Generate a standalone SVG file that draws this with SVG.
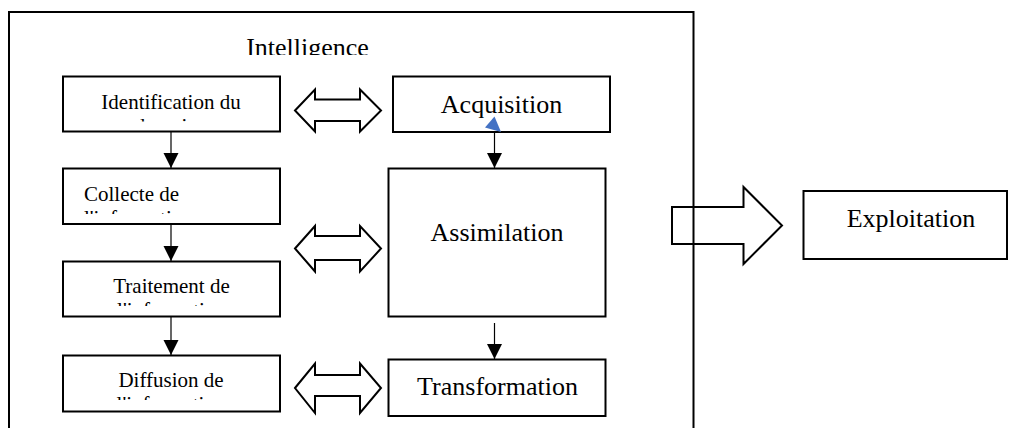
<svg xmlns="http://www.w3.org/2000/svg" width="1011" height="428" viewBox="0 0 1011 428">
<style>
.box{fill:#fff;stroke:#000;stroke-width:2}
.blk{fill:none;stroke:#000;stroke-width:2;stroke-linejoin:miter}
.t{font-family:'Liberation Serif','Times New Roman','DejaVu Serif',serif;fill:#000}
.s{font-size:21px}
.b{font-size:26px}
.c{text-anchor:middle}
.ln{stroke:#000;stroke-width:1.2;fill:none}
</style>
<defs>
<marker id="ah" markerUnits="userSpaceOnUse" markerWidth="16" markerHeight="16" viewBox="0 0 16 16" refX="15" refY="8" orient="auto">
<path d="M0,0.5 L15,8 L0,15.5 Z" fill="#000"/>
</marker>
<clipPath id="cI"><rect x="10" y="13" width="680" height="42"/></clipPath>
<clipPath id="c1"><rect x="65" y="78" width="213" height="43.5"/></clipPath>
<clipPath id="c2"><rect x="65" y="170" width="213" height="44"/></clipPath>
<clipPath id="c3"><rect x="65" y="263" width="213" height="43"/></clipPath>
<clipPath id="c4"><rect x="65" y="357" width="213" height="43"/></clipPath>
</defs>

<g id="frame">
<rect x="9" y="12" width="684.5" height="440" fill="#fff" stroke="#000" stroke-width="2"/>
<text class="t b c" x="307.5" y="56" clip-path="url(#cI)">Intelligence</text>
</g>

<g id="identification">
<rect class="box" x="63" y="76.5" width="217" height="55"/>
<text class="t s c" clip-path="url(#c1)"><tspan x="171" y="108.5">Identification du</tspan><tspan x="171" y="133">domaine</tspan></text>
</g>
<g id="collecte">
<rect class="box" x="63" y="168.5" width="217" height="55.5"/>
<text class="t s" clip-path="url(#c2)"><tspan x="84" y="201">Collecte de</tspan><tspan x="84" y="225">l'information</tspan></text>
</g>
<g id="traitement">
<rect class="box" x="63" y="261.5" width="217" height="55"/>
<text class="t s c" clip-path="url(#c3)"><tspan x="171.5" y="293">Traitement de</tspan><tspan x="171.5" y="317">l'information</tspan></text>
</g>
<g id="diffusion">
<rect class="box" x="63" y="355.5" width="217" height="56"/>
<text class="t s c" clip-path="url(#c4)"><tspan x="171" y="386.5">Diffusion de</tspan><tspan x="171" y="410.5">l'information</tspan></text>
</g>

<g id="acquisition">
<rect class="box" x="393" y="76.5" width="217" height="55.5"/>
<text class="t b c" x="501.5" y="113">Acquisition</text>
</g>
<g id="assimilation">
<rect class="box" x="388.5" y="168.5" width="217" height="148"/>
<text class="t b c" x="497" y="240.5">Assimilation</text>
</g>
<g id="transformation">
<rect class="box" x="388.5" y="359.5" width="217" height="56.5"/>
<text class="t b c" x="497.5" y="395">Transformation</text>
</g>
<g id="exploitation">
<rect class="box" x="803.5" y="191" width="203.5" height="68"/>
<text class="t b c" x="911" y="227">Exploitation</text>
</g>

<g id="connectors">
<line class="ln" x1="171" y1="132" x2="171" y2="168" marker-end="url(#ah)"/>
<line class="ln" x1="171" y1="224" x2="171" y2="261" marker-end="url(#ah)"/>
<line class="ln" x1="171" y1="317" x2="171" y2="355" marker-end="url(#ah)"/>
<line class="ln" x1="494.5" y1="132" x2="494.5" y2="168" marker-end="url(#ah)"/>
<line class="ln" x1="494.5" y1="323" x2="494.5" y2="359" marker-end="url(#ah)"/>
<polygon points="494.5,116.5 485,127.5 501,132" fill="#4472C4"/>
<path class="blk" d="M295,110.5 L315,89.5 L315,99.5 L360,99.5 L360,89.5 L381,110.5 L360,131.5 L360,121 L315,121 L315,131.5 Z"/>
<path class="blk" d="M295,248.5 L315,226 L315,236 L360,236 L360,226 L381,248.5 L360,271.5 L360,260 L315,260 L315,271.5 Z"/>
<path class="blk" d="M295,388 L315,363.5 L315,375 L360,375 L360,363.5 L381,388 L360,413 L360,396 L315,396 L315,413 Z"/>
<path class="blk" d="M672,207 L743.5,207 L743.5,187 L782,225.5 L743.5,264 L743.5,244 L672,244 Z"/>
</g>
</svg>
